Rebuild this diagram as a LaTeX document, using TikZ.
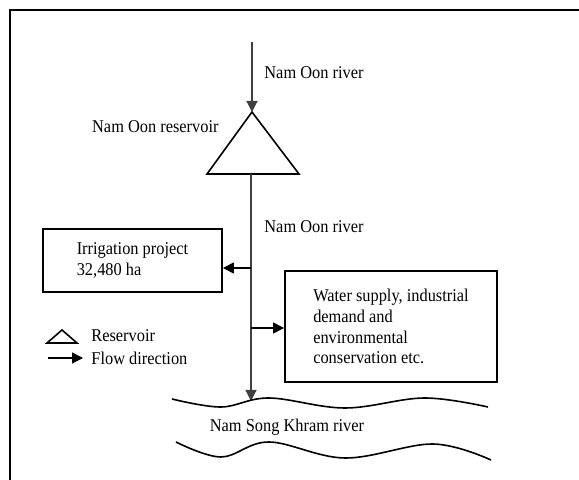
\documentclass[tikz,border=0pt]{standalone}
\usepackage{fontspec}
\setmainfont[FakeStretch=0.91]{Liberation Serif}
\usetikzlibrary{arrows.meta}
\tikzstyle{box} = [draw, line width=0.9pt, align=left, inner sep=0pt]
\tikzstyle{lbl} = [inner sep=0pt]
\tikzstyle{flow} = [-{Triangle[length=5.5pt,width=5.5pt]}, line width=0.6pt]
\tikzstyle{wave} = [line width=0.8pt]

\begin{document}
\begin{tikzpicture}[x=0.5pt,y=-0.5pt,font=\fontsize{9}{10.4}\selectfont]
  \useasboundingbox (0,0) rectangle (579,480);
  \draw[line width=1pt] (10,480) -- (10,10) -- (579,10);

  \coordinate (source) at (252,42);
  \coordinate (resTop) at (252,112);
  \coordinate (resBase) at (251,174);
  \draw[line width=0.8pt] (resTop) -- (207,174) -- (299,174) -- cycle;
  \draw[flow,black!75] (source) -- (resTop);
  \node[lbl,anchor=west] (upperRiver) at (264,73) {Nam Oon river};
  \node[lbl,anchor=east] (resLabel) at (219,127) {Nam Oon reservoir};
  \node[lbl,anchor=west] (lowerRiver) at (264,227) {Nam Oon river};

  \node[box,minimum width=89.5pt,minimum height=31.5pt] (irrigation) at (132.5,260.5) {Irrigation project\\32,480 ha};
  \node[box,minimum width=106pt,minimum height=55.5pt] (supply) at (391,326.5) {Water supply, industrial\\demand and\\environmental\\conservation etc.};

  \coordinate (toIrr) at (251,268);
  \coordinate (toSup) at (251,328);
  \coordinate (outlet) at (251,401);
  \draw[flow,black!75] (resBase) -- (outlet);
  \draw[flow] (toIrr) -- (toIrr -| irrigation.east);
  \draw[flow] (toSup) -- (toSup -| supply.west);

  \draw[wave] plot[smooth,tension=0.6] coordinates {(172,399) (221,407) (269,398) (345,408) (424,398) (488,407)};
  \node[lbl] (khram) at (287,427) {Nam Song Khram river};
  \draw[wave] plot[smooth,tension=0.6] coordinates {(176,442) (221,457) (269,442) (345,458) (433,444) (491,460)};

  \draw[line width=0.8pt] (62,330) -- (47,343) -- (77,343) -- cycle;
  \node[lbl,anchor=west] (legRes) at (91,336) {Reservoir};
  \coordinate (legStart) at (48,358);
  \node[lbl,anchor=west] (legFlow) at (91,358) {Flow direction};
  \draw[flow,shorten >=4pt] (legStart) -- (legFlow.west);
\end{tikzpicture}
\end{document}
